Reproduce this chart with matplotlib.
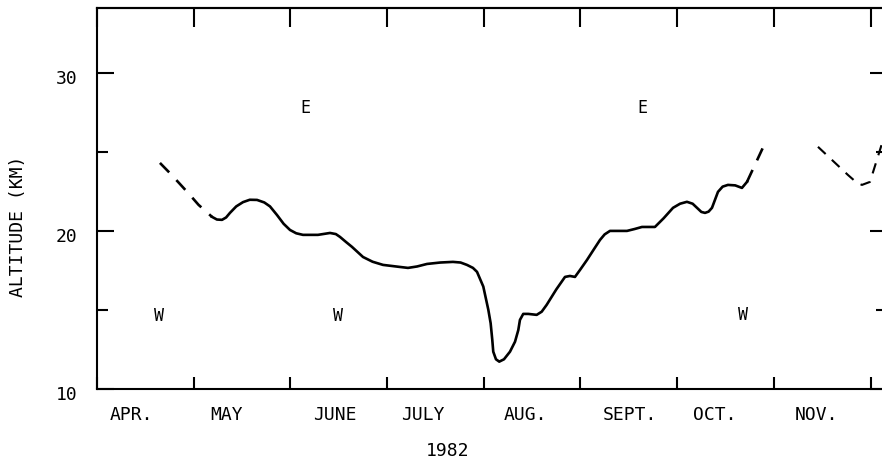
import matplotlib
matplotlib.use("Agg")
import matplotlib.pyplot as plt
import matplotlib.transforms as mtransforms

plt.rcParams['font.family'] = ['DejaVu Sans Mono']

# x in months after 1 April 1982, y = altitude (km)
month_names = ['APR.', 'MAY', 'JUNE', 'JULY', 'AUG.', 'SEPT.', 'OCT.', 'NOV.']
month_label_x = [0.36, 1.34, 2.46, 3.37, 4.43, 5.51, 6.39, 7.44]
month_edges = [0, 1, 2, 3, 4, 5, 6, 7, 8]

# dashed lead-in (April)
apr_x = [0.651, 0.75, 0.85, 0.95, 1.05, 1.189]
apr_y = [24.30, 23.68, 23.02, 22.35, 21.65, 20.89]

# solid main curve
main_x = [1.189, 1.24, 1.293, 1.335, 1.375, 1.44, 1.510, 1.58, 1.655, 1.73,
          1.789, 1.861, 1.93, 1.996, 2.06, 2.130, 2.285, 2.410, 2.47, 2.513,
          2.575, 2.637, 2.751, 2.85, 2.958, 3.133, 3.216, 3.31, 3.413, 3.55,
          3.681, 3.76, 3.826, 3.888, 3.930, 3.995, 4.047, 4.071, 4.088, 4.098,
          4.126, 4.160, 4.209, 4.271, 4.323, 4.357, 4.374, 4.408, 4.460, 4.547,
          4.599, 4.650, 4.75, 4.840, 4.891, 4.943, 4.995, 5.067, 5.14, 5.202,
          5.25, 5.305, 5.40, 5.481, 5.56, 5.636, 5.770, 5.86, 5.957, 6.03,
          6.101, 6.16, 6.205, 6.250, 6.288, 6.325, 6.360, 6.422, 6.47, 6.525,
          6.60, 6.670, 6.722]
main_y = [20.89, 20.72, 20.70, 20.85, 21.14, 21.55, 21.82, 21.97, 21.96, 21.80,
          21.55, 21.01, 20.45, 20.06, 19.85, 19.75, 19.75, 19.87, 19.80, 19.62,
          19.30, 18.99, 18.35, 18.05, 17.85, 17.72, 17.66, 17.75, 17.91, 18.00,
          18.04, 18.00, 17.85, 17.66, 17.41, 16.48, 15.01, 14.16, 13.10, 12.36,
          11.88, 11.73, 11.88, 12.36, 12.99, 13.73, 14.37, 14.75, 14.75, 14.69,
          14.89, 15.32, 16.30, 17.09, 17.15, 17.09, 17.53, 18.16, 18.85, 19.43,
          19.78, 20.00, 20.00, 20.00, 20.12, 20.25, 20.25, 20.80, 21.46, 21.72,
          21.84, 21.72, 21.46, 21.20, 21.14, 21.22, 21.46, 22.47, 22.80, 22.91,
          22.88, 22.72, 23.10]

# dashed end of October
oct_x = [6.722, 6.90]
oct_y = [23.10, 25.44]

# November V
nov_x = [7.456, 7.766, 7.859, 7.911, 7.994, 8.13]
nov_y = [25.32, 23.54, 23.04, 22.91, 23.10, 25.76]

# wind regime labels
regime_text = ['E', 'E', 'W', 'W', 'W']
regime_x = [2.15, 5.64, 0.64, 2.49, 6.68]
regime_y = [27.8, 27.8, 14.6, 14.6, 14.7]

fig = plt.figure(figsize=(8.82, 4.61), dpi=100)
ax = fig.add_axes([97 / 882, 72 / 461, 790 / 882, 381 / 461])

lw = 1.9
ax.plot(apr_x, apr_y, color='black', lw=lw, dashes=(5, 4))
ax.plot(main_x, main_y, color='black', lw=lw, solid_joinstyle='round')
ax.plot(oct_x, oct_y, color='black', lw=lw, dashes=(5, 4))
ax.plot(nov_x, nov_y, color='black', lw=lw * 0.8, dashes=(5, 4))

for t, x, y in zip(regime_text, regime_x, regime_y):
    ax.text(x, y, t, fontsize=12, ha='center', va='center')

ax.set_xlim(0, 8.17)
ax.set_ylim(10, 34.1)

for s in ax.spines.values():
    s.set_linewidth(1.5)

# bottom ticks (month edges) and month labels as minor ticks
ax.set_xticks(month_edges)
ax.set_xticklabels([])
ax.set_xticks(month_label_x, minor=True)
ax.set_xticklabels(month_names, minor=True, fontsize=13)
ax.tick_params(axis='x', which='major', direction='in', length=9, width=1.5,
               top=False, bottom=True)
ax.tick_params(axis='x', which='minor', length=0, pad=12)

top = ax.secondary_xaxis('top')
top.set_xticks(month_edges)
top.tick_params(direction='in', length=14, width=1.5, labeltop=False)
top.spines['top'].set_linewidth(1.5)

ax.set_yticks([10, 20, 30])
ax.set_yticks([15, 25], minor=True)
ax.set_yticklabels(['10', '20', '30'], fontsize=13)
ax.tick_params(axis='y', which='major', direction='in', length=12, width=1.5,
               right=True, pad=14)
ax.tick_params(axis='y', which='minor', direction='in', length=8, width=1.5,
               right=True)
shift = mtransforms.ScaledTranslation(0, -4 / 100, fig.dpi_scale_trans)
for lab in ax.get_yticklabels():
    lab.set_transform(lab.get_transform() + shift)

ax.text(3.63, -0.163, '1982', transform=ax.get_xaxis_transform(),
        ha='center', va='center', fontsize=13)
fig.text(18 / 882, 1 - 226 / 461, 'ALTITUDE (KM)', rotation=90,
         ha='center', va='center', fontsize=13)

fig.savefig('out.png', dpi=100)
